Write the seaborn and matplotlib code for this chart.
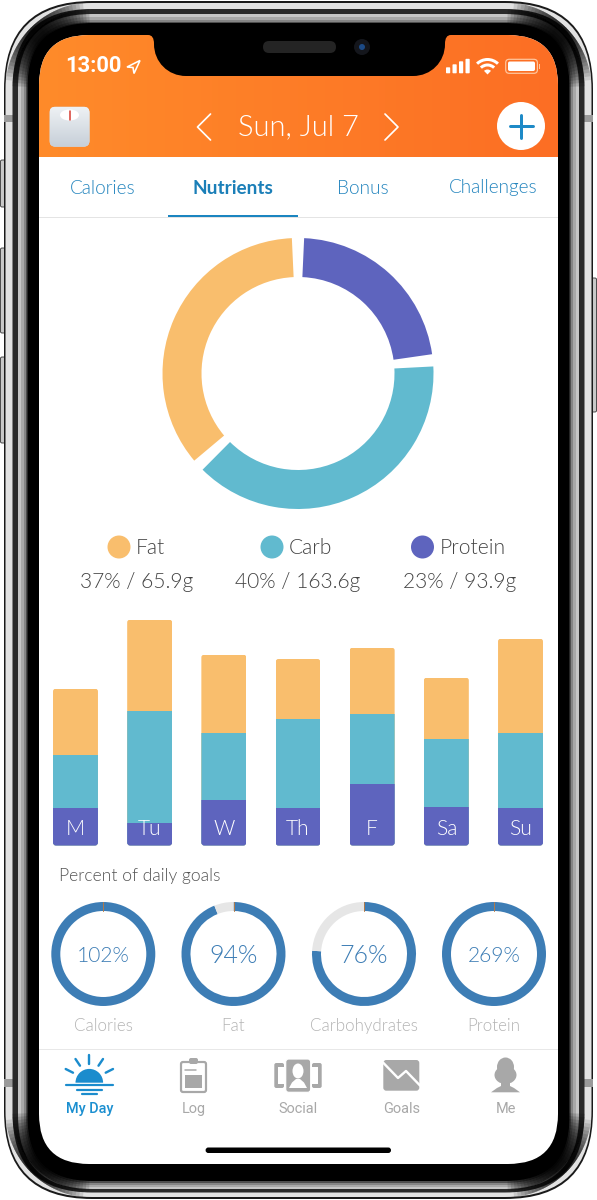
import matplotlib
matplotlib.use("Agg")
import matplotlib.pyplot as plt
import numpy as np
import pandas as pd
import seaborn as sns
from matplotlib.colors import LinearSegmentedColormap
from matplotlib.patches import Circle, Ellipse, FancyBboxPatch, PathPatch, Polygon, Rectangle, Wedge
from matplotlib.path import Path
from matplotlib.transforms import IdentityTransform

sns.set_theme(style="white")
plt.rcParams["font.family"] = ["Lato", "DejaVu Sans"]

W, H = 597, 1200

# data
days = ["M", "Tu", "W", "Th", "F", "Sa", "Su"]
protein = [38, 22.5, 45.5, 38, 62, 38.5, 38]
carb = [52.5, 112.5, 67, 89, 70, 68, 75]
fat = [66.5, 91, 78.5, 59.5, 66, 61.5, 94]

macro_names = ["Fat", "Carb", "Protein"]
macro_pct = [37, 40, 23]
macro_grams = [65.9, 163.6, 93.9]

goal_names = ["Calories", "Fat", "Carbohydrates", "Protein"]
goal_pct = [102, 94, 76, 269]

top_tabs = ["Calories", "Nutrients", "Bonus", "Challenges"]
bottom_tabs = ["My Day", "Log", "Social", "Goals", "Me"]

FAT_C = "#F9BE6D"
CARB_C = "#61BACF"
PROT_C = "#5E64BE"
RING_C = "#3D7DB5"
RING_BG = "#E6E6E6"
TAB_C = "#2485BE"
GREY_ICON = "#A8A8A8"
LIGHT = 300


def px(v):
    return v * 0.72


def rounded(ax, x0, y0, x1, y1, r, **kw):
    kw.setdefault("lw", 0)
    p = FancyBboxPatch((x0, y0), x1 - x0, y1 - y0,
                       boxstyle=f"round,pad=0,rounding_size={r}", **kw)
    ax.add_patch(p)
    return p


def sub_axes(x0, y0, x1, y1):
    a = fig.add_axes([x0 / W, 1 - y1 / H, (x1 - x0) / W, (y1 - y0) / H])
    a.patch.set_alpha(0)
    return a


def ring(cx, cy, outer, inner, sizes, colors, start):
    a = sub_axes(cx - outer, cy - outer, cx + outer, cy + outer)
    a.pie(sizes, colors=colors, radius=1, startangle=start, counterclock=False,
          wedgeprops=dict(width=(outer - inner) / outer, linewidth=0))
    a.set_xlim(-1, 1)
    a.set_ylim(-1, 1)
    return a


fig = plt.figure(figsize=(W / 100, H / 100), dpi=100, facecolor="white")
bg = fig.add_axes([0, 0, 1, 1])
bg.set_axis_off()

# side buttons
for y0, y1 in [(160, 207), (248, 333), (357, 443)]:
    rounded(bg, 0.5, y0, 6, y1, 1.5, fc="#C8C8C8", ec="#333333", lw=0.6)
rounded(bg, 591, 278, 596.5, 412, 1.5, fc="#C8C8C8", ec="#333333", lw=0.6)

# phone body, outside to inside
layers = [(0, 0, 0, "#1A1A1A"), (1.5, 2, 2, "#E2E2E2"), (8.5, 8, 6.5, "#2A2A2A"),
          (14, 13, 10, "#C6C6C6"), (17, 16, 12, "#A8A8A8"), (20, 19, 14, "#858585"),
          (22, 21, 16, "#4E4E4E"), (23.5, 22, 18, "#000000")]
for ix, iy, ib, col in layers:
    rounded(bg, 4 + ix, 1 + iy, 593 - ix, 1199 - ib, 88 - ix, fc=col)
    if ix == 1.5:
        for ay0, ay1 in [(115, 122), (1079, 1087)]:
            bg.add_patch(Rectangle((4, ay0), 9, ay1 - ay0, fc="#9A9A9A", lw=0))
            bg.add_patch(Rectangle((584, ay0), 9, ay1 - ay0, fc="#9A9A9A", lw=0))

# corners of the metal band go dark, in many faint steps
corner_centres = [(92, 89, 180), (505, 89, 270), (505, 1111, 0), (92, 1111, 90)]
for ccx, ccy, base in corner_centres:
    for pad in np.arange(2, 42, 2.5):
        bg.add_patch(Wedge((ccx, ccy), 80, base + pad, base + 90 - pad, width=16,
                           fc="black", alpha=0.14, lw=0))
        bg.add_patch(Wedge((ccx, ccy), 86.5, base + pad + 4, base + 90 - pad - 4, width=6.5,
                           fc="black", alpha=0.11, lw=0))

screen = rounded(bg, 39, 35, 558, 1164, 50, fc="white")

# header gradient
header_cmap = LinearSegmentedColormap.from_list("hdr", ["#FF8B2A", "#FC6E24"])
im = bg.imshow(np.linspace(0, 1, 256).reshape(1, -1), cmap=header_cmap, aspect="auto",
               extent=(39, 558, 157, 35), zorder=1.1)
im.set_clip_path(screen)

# notch
notch = Path([(148, 30), (148, 35), (152, 35), (154, 38), (154, 44), (154, 62), (168, 76), (186, 76),
              (413, 76), (431, 76), (445, 62), (445, 44), (445, 38), (447, 35), (451, 35), (451, 30), (148, 30)],
             [1, 2, 4, 4, 4, 4, 4, 4, 2, 4, 4, 4, 4, 4, 4, 2, 79])
bg.add_patch(PathPatch(notch, fc="black", lw=0, zorder=2))
rounded(bg, 263, 41, 336, 53, 6, fc="#242424", zorder=3)
bg.add_patch(Circle((362, 47), 8, fc="#14161C", lw=0, zorder=3))
bg.add_patch(Circle((362, 47), 3, fc="#1C4A86", lw=0, zorder=3))

# status bar
bg.text(65.5, 66.5, "13:00", color="white", fontsize=px(22), fontweight="bold", family="Roboto",
        ha="left", va="center", zorder=3)
bg.add_patch(Polygon([(140, 60.5), (127, 67), (133, 67.5), (134, 73.5)], closed=True, fc="none",
                     ec="white", lw=px(1.6), zorder=3))
for bx, bh in zip([446, 452.5, 459, 465.5], [6, 9, 12, 14.5]):
    rounded(bg, bx, 73.3 - bh, bx + 4.2, 73.3, 0.8, fc="white", zorder=3)
for r, w in [(16.5, 3), (11, 3), (5, 5)]:
    bg.add_patch(Wedge((487.5, 74.5), r, 226, 314, width=w, fc="white", lw=0, zorder=3))
rounded(bg, 505.7, 59.3, 537.4, 73.3, 3.5, fc="none", ec="#FFC7A0", lw=px(1.2), zorder=3)
rounded(bg, 508, 61.5, 535, 71, 1.8, fc="white", zorder=3)
bg.add_patch(Rectangle((539, 64), 1.2, 5, fc="#FFC7A0", lw=0, zorder=3))

# header row
scale = rounded(bg, 49.5, 106.7, 89.5, 146.7, 6, fc="#D8DEE4", zorder=3)
scale_cmap = LinearSegmentedColormap.from_list("scl", ["#EEF1F4", "#C6CFD8"])
sim = bg.imshow(np.linspace(0, 1, 64).reshape(-1, 1), cmap=scale_cmap, aspect="auto",
                extent=(49.5, 89.5, 146.7, 106.7), zorder=3.1)
sim.set_clip_path(scale)
bg.add_patch(Ellipse((69.5, 115), 19, 11, fc="white", lw=0, zorder=3.2))
bg.plot([69.5, 69.5], [110.5, 119.5], color="#D8453A", lw=px(1.6), zorder=3.3)
bg.text(298, 127, "Sun, Jul 7", color="white", fontsize=px(29), fontweight=LIGHT,
        ha="center", va="center", zorder=3)
bg.plot([210.5, 197.5, 210.5], [114, 127, 140], color="white", lw=px(1.7), zorder=3)
bg.plot([385, 398, 385], [114, 127, 140], color="white", lw=px(1.7), zorder=3)
bg.add_patch(Circle((521, 126), 24, fc="white", lw=0, zorder=3))
bg.plot([509.5, 532.5], [126, 126], color="#1E8AC7", lw=px(3), solid_capstyle="round", zorder=4)
bg.plot([521, 521], [114.5, 137.5], color="#1E8AC7", lw=px(3), solid_capstyle="round", zorder=4)

# top tabs
for name, x in zip(top_tabs, [102.5, 233, 363, 493]):
    active = name == "Nutrients"
    bg.text(x, 188, name, color="#1B7FB8" if active else TAB_C, fontsize=px(19),
            fontweight="bold" if active else LIGHT, ha="center", va="center", zorder=3)
bg.add_patch(Rectangle((39, 217), 519, 1, fc="#E4E4E4", lw=0, zorder=3))
bg.add_patch(Rectangle((168, 214.5), 130, 2.8, fc="#1B85C0", lw=0, zorder=3))

# macro legend
for name, pct, grams, cx, tx, vx, col in zip(macro_names, macro_pct, macro_grams, [119, 272, 422.5],
                                             [136, 289, 439.5], [136.5, 298, 459.5],
                                             [FAT_C, CARB_C, PROT_C]):
    bg.add_patch(Circle((cx, 547), 11.5, fc=col, lw=0, zorder=3))
    bg.text(tx, 548, name, color="#444444", fontsize=px(21), fontweight=LIGHT, ha="left", va="center", zorder=3)
    bg.text(vx, 582, f"{pct}% / {grams}g", color="#444444", fontsize=px(21), fontweight=LIGHT,
            ha="center", va="center", zorder=3)

# lower screen text
bg.text(59, 876.5, "Percent of daily goals", color="#555555", fontsize=px(17.5), fontweight=LIGHT,
        ha="left", va="center", zorder=3)
bg.add_patch(Rectangle((39, 1049), 519, 1, fc="#E8E8E8", lw=0, zorder=3))

# tab bar
tab_x = [89.3, 193.3, 298, 401.5, 505.5]
for name, x in zip(bottom_tabs, tab_x):
    active = name == "My Day"
    bg.text(x, 1109, name, color="#1B8FD0" if active else GREY_ICON, fontsize=px(14.5), family="Roboto",
            fontweight="medium" if active else "normal", ha="center", va="center", zorder=3)

# my day icon
SUN = "#1B8CCD"
bg.add_patch(Wedge((89.3, 1082.7), 13.8, 180, 360, fc=SUN, lw=0, zorder=3))
for (x0, x1), y in zip([(66, 112.7), (76.7, 101.7), (81.7, 96.7)], [1085.3, 1090, 1094.3]):
    bg.plot([x0, x1], [y, y], color=SUN, lw=px(2.2), zorder=3)
for a, b, c, d in [(89.3, 1055, 89.3, 1064), (75.5, 1059, 80, 1065.7), (103, 1059, 98.5, 1065.7),
                   (65.7, 1069, 73, 1072.7), (113, 1069, 105.7, 1072.7)]:
    bg.plot([a, c], [b, d], color=SUN, lw=px(2.4), zorder=3)

# log icon
rounded(bg, 181, 1062, 206, 1092, 2, fc="white", ec=GREY_ICON, lw=px(2.2), zorder=3)
rounded(bg, 189, 1058, 198, 1064, 2, fc=GREY_ICON, zorder=3)
bg.add_patch(Rectangle((185, 1075), 17.3, 13.3, fc=GREY_ICON, lw=0, zorder=3))
bg.plot([185, 196], [1070, 1070], color=GREY_ICON, lw=px(1.5), zorder=3)

# social icon
for x0, x1, ix0, ix1 in [(274.3, 284, 278, 285), (312, 321.7, 311, 318)]:
    rounded(bg, x0, 1063, x1, 1088, 2, fc=GREY_ICON, zorder=3)
    bg.add_patch(Rectangle((ix0, 1067), ix1 - ix0, 17, fc="white", lw=0, zorder=3))
rounded(bg, 285.7, 1059, 310.7, 1092.3, 3, fc=GREY_ICON, ec="white", lw=px(1.2), zorder=3)
bg.add_patch(Ellipse((298, 1071), 11, 15, fc="white", lw=0, zorder=3))
bg.add_patch(Polygon([(289, 1088), (292, 1082.5), (296, 1079), (300, 1079), (304, 1082.5), (307, 1088)],
                     fc="white", lw=0, zorder=3))

# goals icon
rounded(bg, 383.3, 1060, 419.3, 1090.7, 3, fc=GREY_ICON, zorder=3)
bg.plot([382.5, 398, 406, 420], [1062, 1078, 1071, 1085.5], color="white", lw=px(2.4), zorder=3)

# me icon
bg.add_patch(Ellipse((505.5, 1067), 17, 19, fc=GREY_ICON, lw=0, zorder=3))
bg.add_patch(Ellipse((505.5, 1075), 22, 18, fc=GREY_ICON, lw=0, zorder=3))
bg.add_patch(Polygon([(491, 1092.3), (497, 1088), (501, 1086), (501, 1080), (510, 1080), (510, 1086),
                      (514, 1088), (520, 1092.3)], fc=GREY_ICON, lw=0, zorder=3))

# home indicator
rounded(bg, 205.6, 1147.5, 391, 1153, 2.7, fc="black", zorder=3)

bg.set_xlim(0, W)
bg.set_ylim(H, 0)

# main donut, gaps are constant in angle
gap_deg = 5.2
scale_f = (360 - 3 * gap_deg) / 100
sizes = []
colors = []
for pct, col in zip(macro_pct[::-1], [PROT_C, CARB_C, FAT_C]):
    sizes += [pct * scale_f, gap_deg]
    colors += [col, "none"]
ring(298, 373.5, 135.5, 96.5, sizes, colors, 90 - gap_deg / 2)

# stacked day bars, drawn back to front
df = pd.DataFrame({"day": days, "protein": protein, "carb": carb, "fat": fat})
df["carb_top"] = df["protein"] + df["carb"]
df["fat_top"] = df["carb_top"] + df["fat"]

bar_ax = sub_axes(38.4, 605, 557.6, 845.5)
for col, color in [("fat_top", FAT_C), ("carb_top", CARB_C), ("protein", PROT_C)]:
    sns.barplot(data=df, x="day", y=col, color=color, saturation=1, width=0.606,
                linewidth=0, ax=bar_ax)
bar_ax.set_xlim(-0.5, 6.5)
bar_ax.set_ylim(0, 240.5)
bar_ax.set_xlabel("")
bar_ax.set_ylabel("")
bar_ax.set_yticks([])
bar_ax.set_axisbelow(False)
bar_ax.tick_params(axis="x", length=0, pad=px(-26.5), labelsize=px(21), labelcolor="white")
for t in bar_ax.get_xticklabels():
    t.set_fontweight(LIGHT)
sns.despine(ax=bar_ax, left=True, bottom=True)

# round the bar corners with a clip per day
outer = list(bar_ax.containers[0])
for i, p in enumerate(outer):
    e = p.get_window_extent()
    clip = FancyBboxPatch((e.x0, e.y0), e.width, e.height, boxstyle="round,pad=0,rounding_size=3",
                          transform=IdentityTransform())
    for cont in bar_ax.containers:
        list(cont)[i].set_clip_path(clip)

# goal rings
for name, pct, cx in zip(goal_names, goal_pct, [103.3, 233.5, 364, 494]):
    done = min(pct, 100)
    a = ring(cx, 954, 52, 43, [done, 100 - done], [RING_C, RING_BG], 90)
    a.plot([0, 0], [0.82, 1], color="#B07A4A", lw=px(1), zorder=5)
    size = 21 if pct > 100 else 25
    a.text(0, -0.03, f"{pct}%", color=RING_C, fontsize=px(size), fontweight=LIGHT, ha="center", va="center")
    bg.text(cx, 1026, name, color="#B4B4B4", fontsize=px(17), fontweight=LIGHT, ha="center", va="center", zorder=3)

fig.savefig("out.png", dpi=100)
